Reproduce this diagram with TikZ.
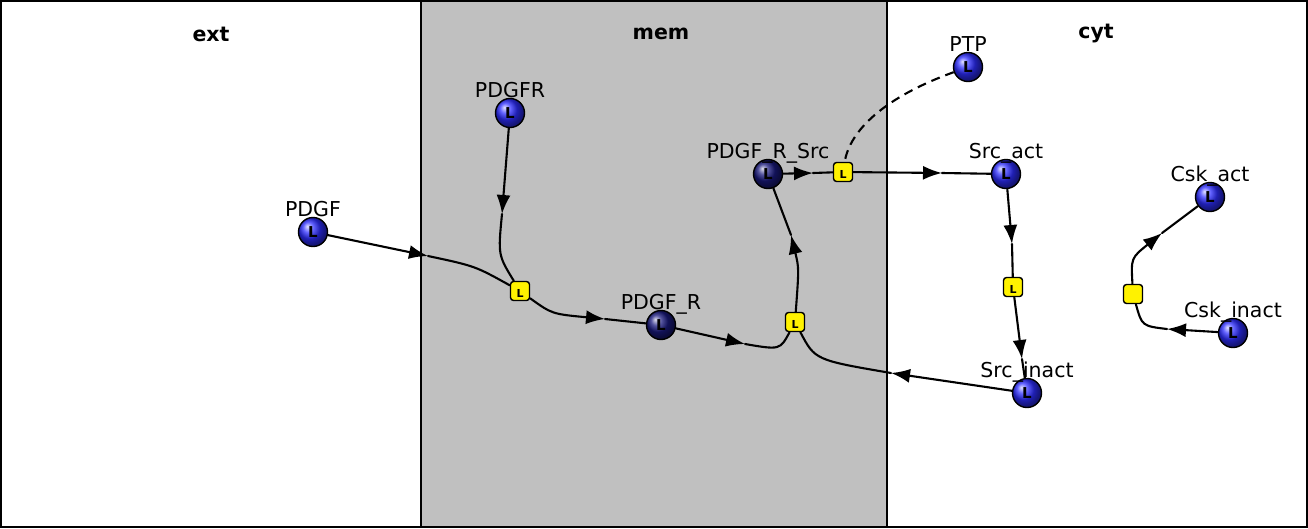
\documentclass[tikz,border=0pt]{standalone}
\usepackage{fontspec}
\setmainfont{DejaVu Sans}
\usetikzlibrary{arrows.meta}
\definecolor{memgray}{RGB}{192,192,192}
\definecolor{spblue}{RGB}{45,45,255}
\definecolor{spnavy}{RGB}{25,25,125}
\begin{document}
\begin{tikzpicture}[x=1pt,y=-1pt,
  species/.style={circle,draw,line width=1.4pt,minimum size=29pt,inner sep=0pt,shading=ball,ball color=spblue,font=\fontsize{15}{15}\selectfont\bfseries,label distance=3pt},
  complex/.style={species,ball color=spnavy},
  reaction/.style={draw,line width=1.4pt,fill=yellow,rounded corners=3pt,minimum size=19pt,inner sep=0pt,font=\fontsize{11}{11}\selectfont\bfseries,text height=12pt,text depth=0pt},
  lbl/.style={font=\fontsize{20.5}{20.5}\selectfont,inner sep=0pt,text depth=0pt},
  comp/.style={font=\fontsize{20.5}{20.5}\selectfont\bfseries},
  edge/.style={line width=2.1pt,line cap=round},
  flow/.style={edge,-{Latex[length=19pt,width=14pt]}},
  modifier/.style={line width=2.1pt,dash pattern=on 9pt off 6pt}]
\useasboundingbox (0,0) rectangle (1308,528);
\fill[memgray] (421,1) rectangle (887,527);
\draw[line width=2pt] (1,1) rectangle (1307,527);
\draw[line width=2pt] (421,1) -- (421,527);
\draw[line width=2pt] (887,1) -- (887,527);
\node[comp] (ext) at (211,34) {ext};
\node[comp] (mem) at (661,34) {mem};
\node[comp] (cyt) at (1096,34) {cyt};
\coordinate (t1) at (428,256);
\coordinate (t2) at (502,214);
\coordinate (t3) at (605,319);
\coordinate (t4) at (745,344);
\coordinate (t5) at (891,373);
\coordinate (t6) at (791,235);
\coordinate (t7) at (813,173);
\coordinate (t8) at (942,173);
\coordinate (t9) at (1012,244);
\coordinate (t10) at (1022,359);
\coordinate (t11) at (1167,329);
\coordinate (t12) at (1162,233);
\node[species,label={[lbl]above:PDGF}] (PDGF) at (313,232) {L};
\node[species,label={[lbl]above:PDGFR}] (PDGFR) at (510,113) {L};
\node[complex,label={[lbl]above:PDGF\_R}] (PDGFRc) at (661,325) {L};
\node[complex,label={[lbl]above:PDGF\_R\_Src}] (PDGFRSrc) at (768,174) {L};
\node[species,label={[lbl]above:PTP}] (PTP) at (968,67) {L};
\node[species,label={[lbl]above:Src\_act}] (SrcAct) at (1006,174) {L};
\node[species,label={[lbl]above:Src\_inact}] (SrcInact) at (1027,393) {L};
\node[species,label={[lbl]above:Csk\_act}] (CskAct) at (1210,197) {L};
\node[species,label={[lbl]above:Csk\_inact}] (CskInact) at (1233,333) {L};
\node[reaction] (r1) at (520,291) {L};
\node[reaction] (r2) at (795,322) {L};
\node[reaction] (r3) at (843,172) {L};
\node[reaction] (r4) at (1013,287) {L};
\node[reaction] (r5) at (1133,294) {};
\draw[flow] (PDGF) -- (t1);
\draw[edge] (t1) .. controls (475,266) .. (r1);
\draw[flow] (PDGFR) -- (t2);
\draw[edge] (t2) .. controls (498,255) .. (r1);
\draw[flow] (r1) .. controls (552,314) .. (t3);
\draw[edge] (t3) -- (PDGFRc);
\draw[flow] (PDGFRc) -- (t4);
\draw[edge] (t4) .. controls (780,350) .. (r2);
\draw[flow] (SrcInact) -- (t5);
\draw[edge] (t5) .. controls (815,360) .. (r2);
\draw[flow] (r2) .. controls (799,268) .. (t6);
\draw[edge] (t6) -- (PDGFRSrc);
\draw[flow] (PDGFRSrc) -- (t7);
\draw[edge] (t7) -- (r3);
\draw[flow] (r3) -- (t8);
\draw[edge] (t8) -- (SrcAct);
\draw[modifier] (PTP) .. controls (885,97) and (850,130) .. (r3);
\draw[flow] (SrcAct) -- (t9);
\draw[edge] (t9) -- (r4);
\draw[flow] (r4) -- (t10);
\draw[edge] (t10) -- (SrcInact);
\draw[flow] (CskInact) -- (t11);
\draw[edge] (t11) .. controls (1142,326) .. (r5);
\draw[flow] (r5) .. controls (1131,258) .. (t12);
\draw[edge] (t12) -- (CskAct);
\end{tikzpicture}
\end{document}
